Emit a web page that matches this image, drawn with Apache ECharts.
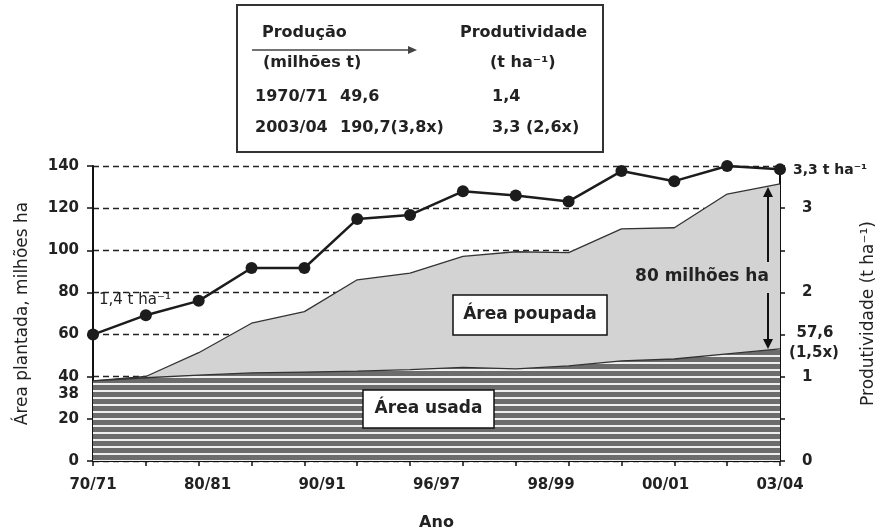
<!DOCTYPE html>
<html><head><meta charset="utf-8">
<script src="https://cdn.jsdelivr.net/npm/echarts@6/dist/echarts.min.js"></script>
<style>html,body{margin:0;padding:0;background:#fff}#c{width:880px;height:532px}</style>
</head><body><div id="c"></div>
<script>
// ---- data ----
const categories = ['70/71','75/76','80/81','85/86','90/91','95/96','96/97','97/98','98/99','99/00','00/01','01/02','02/03','03/04'];
const xTickLabels = ['70/71','80/81','90/91','96/97','98/99','00/01','03/04'];
const leftTickLabels = [0,20,38,40,60,80,100,120,140];
const leftTickMarks = [0,20,40,60,80,100,120,140];
const rightTickLabels = [0,1,2,3];
// area needed at 1970/71 productivity (top of "Área poupada"), milhões ha
const areaTotal = [38,40.1,51.4,65.4,70.9,86,89.2,97.1,99.3,98.9,110.2,110.7,126.7,131.5];
// area actually used, milhões ha
const areaUsada = [38,39.5,40.8,41.8,42.2,42.7,43.4,44.4,43.7,45.1,47.5,48.4,50.8,53.2];
// productivity, t/ha (right axis)
const produtividade = [1.50,1.73,1.90,2.29,2.29,2.87,2.92,3.20,3.15,3.08,3.44,3.32,3.50,3.46];

// ---- styles ----
const FONT = '"DejaVu Sans", sans-serif';
const INK = '#222';
const pat = document.createElement('canvas');
pat.width = 8; pat.height = 7;
const g = pat.getContext('2d');
g.fillStyle = '#6c6c6c'; g.fillRect(0,0,8,7);
g.fillStyle = '#eeeeee'; g.fillRect(0,5,8,2);

const chart = echarts.init(document.getElementById('c'), null, {renderer:'canvas'});
const tickFont = {fontFamily: FONT, fontWeight:'bold', fontSize:15, color: INK};

function txt(text, x, y, font, align, extra) {
  return Object.assign({type:'text', z:100, style:{text, x, y, font, fill: INK, align: align || 'left', verticalAlign:'middle'}}, extra || {});
}
const bold16 = 'bold 16px ' + FONT;
const bold17 = 'bold 17px ' + FONT;

const option = {
  animation: false,
  backgroundColor: '#fff',
  grid: {left: 93, right: 100, top: 166, bottom: 71, containLabel:false, outerBoundsMode:'none'},
  xAxis: [
    {type:'category', data: categories, boundaryGap:false, position:'bottom',
     axisLine:{lineStyle:{color:'#111', width:2}},
     axisTick:{show:true, interval:0, length:5, lineStyle:{color:'#111', width:1.5}},
     axisLabel:{show:false}, splitLine:{show:false},
     name:'Ano', nameLocation:'middle', nameGap:54,
     nameTextStyle:{fontFamily: FONT, fontWeight:'bold', fontSize:16, color: INK}},
    {type:'value', min:0, max: xTickLabels.length-1, interval:1, position:'bottom',
     axisLine:{show:false}, axisTick:{show:false}, splitLine:{show:false},
     axisLabel:Object.assign({margin:17, formatter: v => xTickLabels[v]}, tickFont)}
  ],
  yAxis: [
    {type:'value', min:0, max:140, interval:20, position:'left',
     axisLine:{show:true, lineStyle:{color:'#111', width:2}},
     axisTick:{show:true, length:6, customValues: leftTickMarks, lineStyle:{color:'#111', width:1.5}},
     axisLabel:Object.assign({margin:14, customValues: leftTickLabels,
        formatter: v => v === 38 ? '{low|38}' : String(v),
        rich:{low:{fontFamily: FONT, fontWeight:'bold', fontSize:15, color: INK, padding:[26,0,0,0]}}}, tickFont),
     splitLine:{show:true, lineStyle:{type:[6,4], color:'#222', width:1.3}},
     name:'Área plantada, milhões ha', nameLocation:'middle', nameGap:62, nameRotate:90,
     nameTextStyle:{fontFamily: FONT, fontSize:17, color: INK}},
    {type:'value', min:0, max:3.5, interval:0.5, position:'right',
     axisLine:{show:true, lineStyle:{color:'#111', width:2}},
     axisTick:{show:true, length:5, lineStyle:{color:'#111', width:1.5}},
     axisLabel:Object.assign({margin:22, formatter: v => rightTickLabels.indexOf(v) >= 0 ? String(v) : ''}, tickFont),
     splitLine:{show:false},
     name:'Produtividade (t ha⁻¹)', nameLocation:'middle', nameGap:80, nameRotate:90,
     nameTextStyle:{fontFamily: FONT, fontSize:17, color: INK}}
  ],
  series: [
    {type:'line', name:'Área poupada', xAxisIndex:0, yAxisIndex:0, data: areaTotal, symbol:'none', z:2,
     lineStyle:{color:'#333', width:1.3}, areaStyle:{color:'#d3d3d3', opacity:1}, silent:true},
    {type:'line', name:'Área usada', xAxisIndex:0, yAxisIndex:0, data: areaUsada, symbol:'none', z:3,
     lineStyle:{color:'#333', width:1.3}, areaStyle:{color:{image: pat, repeat:'repeat'}, opacity:1}, silent:true},
    {type:'line', name:'Produtividade', xAxisIndex:0, yAxisIndex:1, data: produtividade, z:4,
     symbol:'circle', symbolSize:12, itemStyle:{color:'#1c1c1c'}, lineStyle:{color:'#1c1c1c', width:2.5}, silent:true}
  ],
  graphic: [
    // table box
    {type:'rect', z:100, shape:{x:237, y:5, width:366, height:147}, style:{fill:'#fff', stroke:'#333', lineWidth:2}},
    txt('Produção', 262, 33, bold16),
    {type:'line', z:100, shape:{x1:252, y1:50, x2:409, y2:50}, style:{stroke:'#444', lineWidth:1.3}},
    {type:'polygon', z:100, shape:{points:[[408,46],[417,50],[408,54]]}, style:{fill:'#444'}},
    txt('(milhões t)', 263, 63, bold16),
    txt('Produtividade', 460, 33, bold16),
    txt('(t ha⁻¹)', 490, 63, bold16),
    txt('1970/71', 255, 97, bold16),
    txt('49,6', 340, 97, bold16),
    txt('1,4', 492, 97, bold16),
    txt('2003/04', 255, 128, bold16),
    txt('190,7(3,8x)', 340, 128, bold16),
    txt('3,3 (2,6x)', 492, 128, bold16),
    // area labels
    {type:'rect', z:100, shape:{x:453, y:295, width:154, height:40}, style:{fill:'#fff', stroke:'#111', lineWidth:1.5}},
    txt('Área poupada', 530, 315, bold17, 'center'),
    {type:'rect', z:100, shape:{x:363, y:390, width:131, height:38}, style:{fill:'#fff', stroke:'#111', lineWidth:1.5}},
    txt('Área usada', 428.5, 409, bold17, 'center'),
    // 80 milhões ha arrow
    txt('80 milhões ha', 702, 277, bold17, 'center'),
    {type:'line', z:100, shape:{x1:768, y1:194, x2:768, y2:262}, style:{stroke:'#111', lineWidth:2}},
    {type:'polygon', z:100, shape:{points:[[763,197],[768,187],[773,197]]}, style:{fill:'#111'}},
    {type:'line', z:100, shape:{x1:768, y1:293, x2:768, y2:342}, style:{stroke:'#111', lineWidth:2}},
    {type:'polygon', z:100, shape:{points:[[763,339],[768,349],[773,339]]}, style:{fill:'#111'}},
    // point annotations
    txt('1,4 t ha⁻¹', 99, 300, '15px ' + FONT),
    txt('3,3 t ha⁻¹', 793, 170, 'bold 14px ' + FONT),
    txt('57,6', 815, 333, 'bold 15px ' + FONT, 'center'),
    txt('(1,5x)', 814, 353, 'bold 15px ' + FONT, 'center')
  ]
};
chart.setOption(option);
</script>
</body></html>
